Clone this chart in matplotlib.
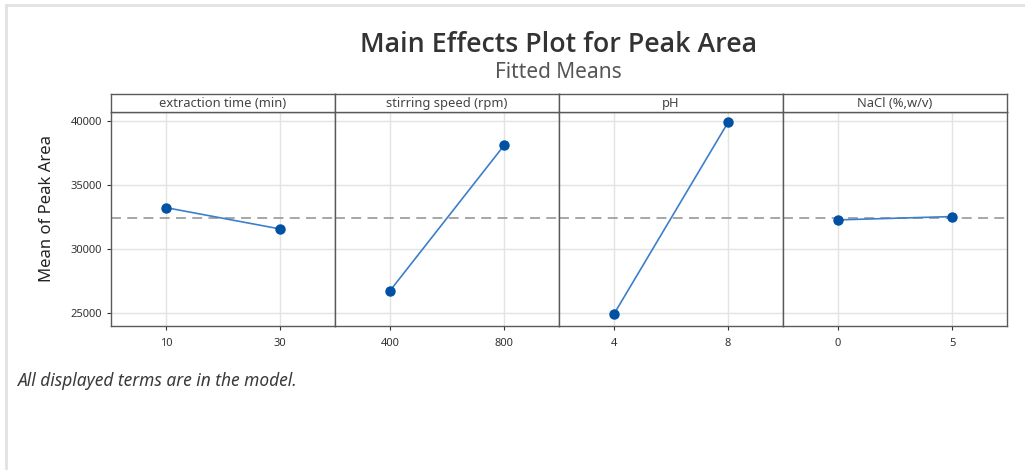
import numpy as np
import matplotlib
matplotlib.use("Agg")
import matplotlib.pyplot as plt
from matplotlib.lines import Line2D

plt.rcParams['font.family'] = ['Noto Sans', 'DejaVu Sans']

# data
factors = ['extraction time (min)', 'stirring speed (rpm)', 'pH', 'NaCl (%,w/v)']
levels = [[10, 30], [400, 800], [4, 8], [0, 5]]
means = [[33230, 31560], [26720, 38100], [24900, 39900], [32270, 32530]]
grand_mean = 32400
y_ticks = [25000, 30000, 35000, 40000]

fig = plt.figure(figsize=(10.25, 4.7), dpi=100)

# light frame on left and top
fig.add_artist(Line2D([6 / 1025, 6 / 1025], [0, 1 - 5 / 470], color='#e2e2e2', lw=2))
fig.add_artist(Line2D([6 / 1025, 1], [1 - 5 / 470, 1 - 5 / 470], color='#e2e2e2', lw=2))

left, right = 111 / 1025, 1007 / 1025
bottom, top = 1 - 326 / 470, 1 - 112 / 470
strip_h = 18 / 470
w = (right - left) / len(factors)

edge = '#5a5a5a'
for i, (name, lv, mv) in enumerate(zip(factors, levels, means)):
    ax = fig.add_axes([left + i * w, bottom, w, top - bottom])
    span = lv[1] - lv[0]
    ax.set_xlim(lv[0] - 0.48 * span, lv[1] + 0.48 * span)
    ax.set_ylim(23980, 40700)
    ax.set_yticks(y_ticks)
    ax.set_xticks(lv)
    ax.grid(True, color='#e3e3e3', lw=1)
    ax.set_axisbelow(True)
    ax.axhline(grand_mean, color='#a0a0a0', lw=1.3, ls=(0, (5.5, 3.5)), zorder=2)
    ax.plot(lv, mv, color='#3c7fcb', lw=1.2, zorder=3)
    ax.plot(lv, mv, 'o', color='#0050a4', ms=6.5, zorder=4)
    for s in ax.spines.values():
        s.set_color(edge)
        s.set_linewidth(1)
    ax.tick_params(axis='both', labelsize=8, colors='#333333', length=3, width=0.8)
    ax.tick_params(axis='x', pad=6)
    if i > 0:
        ax.tick_params(axis='y', left=False, labelleft=False)
    else:
        ax.set_ylabel('Mean of Peak Area', fontsize=12, color='#222222')
        ax.yaxis.set_label_coords(-0.25, 0.55)

    # header strip
    sax = fig.add_axes([left + i * w, top, w, strip_h])
    sax.set_xticks([])
    sax.set_yticks([])
    for s in sax.spines.values():
        s.set_color(edge)
        s.set_linewidth(1)
    sax.text(0.5, 0.45, name, ha='center', va='center', fontsize=9.3, color='#444444',
             transform=sax.transAxes)

fig.text(0.545, 1 - 45 / 470, 'Main Effects Plot for Peak Area', ha='center', va='center',
         fontsize=19.3, weight='semibold', family=['Open Sans', 'DejaVu Sans'], color='#333333')
fig.text(0.545, 1 - 73 / 470, 'Fitted Means', ha='center', va='center',
         fontsize=15, color='#555555')
fig.text(18 / 1025, 1 - 381 / 470, 'All displayed terms are in the model.', ha='left', va='center',
         fontsize=12.5, style='italic', color='#3a3a3a')

fig.savefig('out.png', dpi=100)
